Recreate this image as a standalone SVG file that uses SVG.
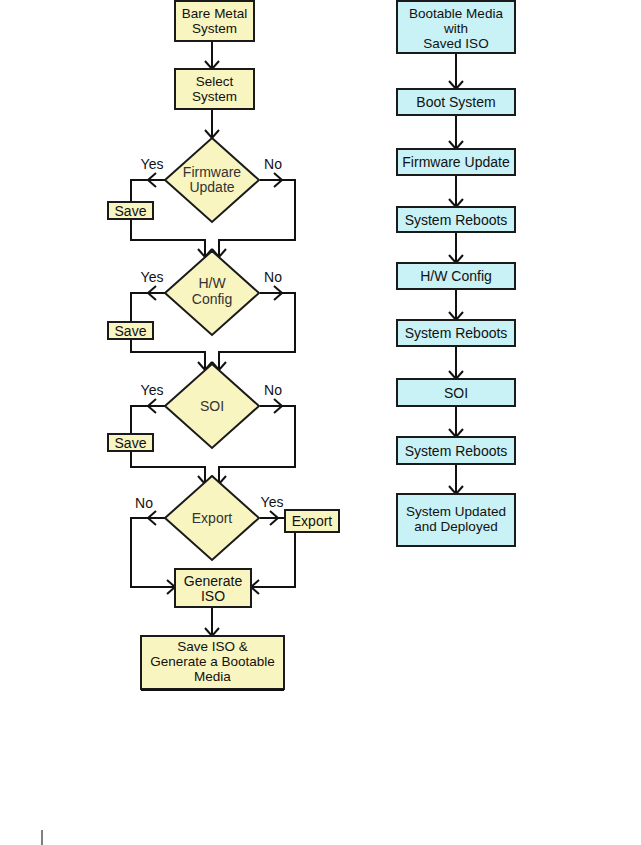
<svg xmlns="http://www.w3.org/2000/svg" width="641" height="845" viewBox="0 0 641 845">
<style>
.y{fill:#f9f5c0;stroke:#1a1a1a;stroke-width:2}
.c{fill:#c9f2f6;stroke:#1a1a1a;stroke-width:2}
.t{font-family:"Liberation Sans",Arial,sans-serif;font-size:14px;fill:#111;text-anchor:middle}
.m{font-family:"Liberation Sans",Arial,sans-serif;font-size:13.5px;fill:#111;text-anchor:middle}
.d{font-family:"Liberation Sans",Arial,sans-serif;font-size:14px;fill:#333;text-anchor:middle}
.l{font-family:"Liberation Sans",Arial,sans-serif;font-size:14px;fill:#111;text-anchor:middle}
.w{fill:none;stroke:#111;stroke-width:2}
.h{fill:none;stroke:#111;stroke-width:2;stroke-linejoin:miter}
</style>
<rect width="641" height="845" fill="#fff"/>
<g id="connectors">
<path class="w" d="M212,41V69M212,109V138"/>
<path class="h" d="M205,61L212,69L219,61M205,130L212,138L219,130"/>
<path class="w" d="M165,180H131V240H205V257M260,180H295V240H219V257"/>
<path class="h" d="M156,173L148,180L156,187M274,173L282,180L274,187M198,249L205,257L212,249M212,249L219,257L226,249"/>
<path class="w" d="M165,293H131V352H205V370M260,293H295V352H219V370"/>
<path class="h" d="M156,286L148,293L156,300M274,286L282,293L274,300M198,362L205,370L212,362M212,362L219,370L226,362"/>
<path class="w" d="M165,406H131V467H205V484M260,406H295V467H219V484"/>
<path class="h" d="M156,399L148,406L156,413M274,399L282,406L274,413M198,476L205,484L212,476M212,476L219,484L226,476"/>
<path class="w" d="M165,518H131V587H175M260,518H285M295,532V587H251"/>
<path class="h" d="M156,511L148,518L156,525M270,511L278,518L270,525M167,580L175,587L167,594M259,580L251,587L259,594"/>
<path class="w" d="M212,607V636"/>
<path class="h" d="M205,628L212,636L219,628"/>
<path class="w" d="M456,53V89M456,115V149M456,175V207M456,232V263M456,289V320M456,346V379M456,406V437M456,464V494"/>
<path class="h" d="M449,81L456,89L463,81M449,141L456,149L463,141M449,199L456,207L463,199M449,255L456,263L463,255M449,312L456,320L463,312M449,371L456,379L463,371M449,429L456,437L463,429M449,486L456,494L463,486"/>
</g>
<g id="bare-metal"><rect class="y" x="175" y="1" width="79" height="40"/><text class="m" x="214.5" y="18">Bare Metal</text><text class="m" x="214.5" y="33">System</text></g>
<g id="select-system"><rect class="y" x="175" y="69" width="79" height="40"/><text class="m" x="214.5" y="86">Select</text><text class="m" x="214.5" y="101">System</text></g>
<g id="firmware-update"><polygon class="y" points="212,138 259,180 212,222 165,180"/><text class="d" x="212" y="177">Firmware</text><text class="d" x="212" y="192">Update</text></g>
<g id="fw-yes"><text class="l" x="152" y="169">Yes</text></g>
<g id="fw-no"><text class="l" x="273" y="169">No</text></g>
<g id="save1"><rect class="y" x="108" y="202" width="45" height="17"/><text class="t" x="130.5" y="215.5">Save</text></g>
<g id="hw-config"><polygon class="y" points="212,251 259,293 212,335 165,293"/><text class="d" x="212" y="288">H/W</text><text class="d" x="212" y="304">Config</text></g>
<g id="hw-yes"><text class="l" x="152" y="282">Yes</text></g>
<g id="hw-no"><text class="l" x="273" y="282">No</text></g>
<g id="save2"><rect class="y" x="108" y="322" width="45" height="17"/><text class="t" x="130.5" y="335.5">Save</text></g>
<g id="soi"><polygon class="y" points="212,364 259,406 212,448 165,406"/><text class="d" x="212" y="411">SOI</text></g>
<g id="soi-yes"><text class="l" x="152" y="395">Yes</text></g>
<g id="soi-no"><text class="l" x="273" y="395">No</text></g>
<g id="save3"><rect class="y" x="108" y="434" width="45" height="17"/><text class="t" x="130.5" y="447.5">Save</text></g>
<g id="export"><polygon class="y" points="212,476 259,518 212,560 165,518"/><text class="d" x="212" y="523">Export</text></g>
<g id="exp-no"><text class="l" x="144" y="508">No</text></g>
<g id="exp-yes"><text class="l" x="272" y="507">Yes</text></g>
<g id="export-box"><rect class="y" x="285" y="510" width="54" height="22"/><text class="t" x="312" y="526">Export</text></g>
<g id="generate-iso"><rect class="y" x="175" y="569" width="76" height="38"/><text class="t" x="213" y="586">Generate</text><text class="t" x="213" y="601">ISO</text></g>
<g id="save-iso"><rect class="y" x="141" y="636" width="143" height="53"/><line x1="141" y1="690" x2="284" y2="690" stroke="#111" stroke-width="2"/><text class="m" x="212.5" y="651">Save ISO &amp;</text><text class="m" x="212.5" y="666">Generate a Bootable</text><text class="m" x="212.5" y="681">Media</text></g>
<g id="bootable-media"><rect class="c" x="397" y="1" width="118" height="52"/><text class="m" x="456" y="18">Bootable Media</text><text class="m" x="456" y="33">with</text><text class="m" x="456" y="48">Saved ISO</text></g>
<g id="boot-system"><rect class="c" x="397" y="89" width="118" height="26"/><text class="t" x="456" y="107">Boot System</text></g>
<g id="r-firmware"><rect class="c" x="397" y="149" width="118" height="26"/><text class="t" x="456" y="167">Firmware Update</text></g>
<g id="reboot1"><rect class="c" x="397" y="207" width="118" height="25"/><text class="t" x="456" y="224.5">System Reboots</text></g>
<g id="r-hw"><rect class="c" x="397" y="263" width="118" height="26"/><text class="t" x="456" y="281">H/W Config</text></g>
<g id="reboot2"><rect class="c" x="397" y="320" width="118" height="26"/><text class="t" x="456" y="338">System Reboots</text></g>
<g id="r-soi"><rect class="c" x="397" y="379" width="118" height="27"/><text class="t" x="456" y="397.5">SOI</text></g>
<g id="reboot3"><rect class="c" x="397" y="437" width="118" height="27"/><text class="t" x="456" y="455.5">System Reboots</text></g>
<g id="deployed"><rect class="c" x="397" y="494" width="118" height="52"/><text class="m" x="456" y="516">System Updated</text><text class="m" x="456" y="531">and Deployed</text></g>
<line x1="42" y1="830" x2="42" y2="845" stroke="#000" stroke-width="1"/>
</svg>
